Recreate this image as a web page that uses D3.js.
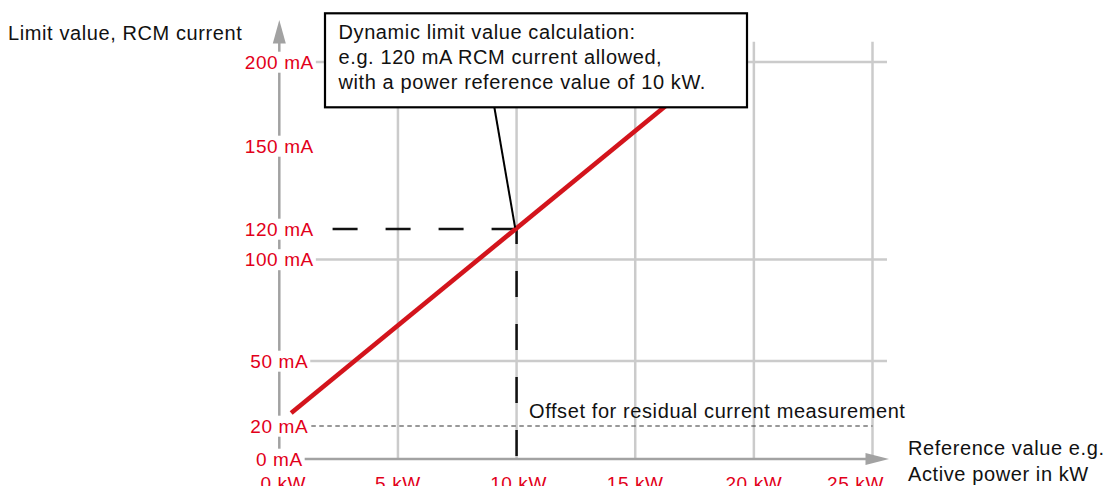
<!DOCTYPE html>
<html>
<head>
<meta charset="utf-8">
<script src="https://cdn.jsdelivr.net/npm/d3@7"></script>
<style>
  html, body { margin: 0; padding: 0; background: #fff; overflow: hidden; }
  svg { display: block; }
  text { font-family: "Liberation Sans", Arial, Helvetica, sans-serif; letter-spacing: 0.6px; }
</style>
</head>
<body>
<svg id="chart" width="1107" height="486"></svg>
<script>
// Reference value axis (kW)
const kwTicks = [0, 5, 10, 15, 20, 25];
const kwTickLabels = ["0 kW", "5 kW", "10 kW", "15 kW", "20 kW", "25 kW"];
const kwGrid = [5, 10, 15, 20, 25];

// Limit value axis (mA) – schematic, unevenly spaced ticks
const maTicks = [0, 20, 50, 100, 120, 150, 200];
const maTickLabels = ["0 mA", "20 mA", "50 mA", "100 mA", "120 mA", "150 mA", "200 mA"];
const maGrid = [50, 100, 200];

// Dynamic limit line: [kW, mA]
const limitKw = [0.5, 17.5];
const limitMa = [26, 188];

// Worked example point and fixed offset
const exampleKw = [10];
const exampleMa = [120];
const offsetMa = [20];

const yTitle = "Limit value, RCM current";
const xTitle = ["Reference value e.g.", "Active power in kW"];
const offsetText = "Offset for residual current measurement";
const noteLines = [
  "Dynamic limit value calculation:",
  "e.g. 120 mA RCM current allowed,",
  "with a power reference value of 10 kW."
];

const RED_TEXT = "#e2001a";
const RED_LINE = "#d3141c";
const AXIS = "#a2a2a2";
const GRID = "#cbcbcb";

const svg = d3.select("#chart");

const x = d3.scaleLinear().domain([0, 25]).range([279.3, 872.5]);
const y = d3.scaleLinear().domain(maTicks).range([459, 426, 361, 259.5, 229, 146, 62]);

const x0 = x(0), y0 = y(0);

// grid
svg.append("g").selectAll("line").data(kwGrid).join("line")
  .attr("x1", d => x(d)).attr("x2", d => x(d))
  .attr("y1", y0).attr("y2", 41.7)
  .attr("stroke", GRID).attr("stroke-width", 2.5);

svg.append("g").selectAll("line").data(maGrid).join("line")
  .attr("x1", x0).attr("x2", 887)
  .attr("y1", d => y(d)).attr("y2", d => y(d))
  .attr("stroke", GRID).attr("stroke-width", 2.5);

// offset line
svg.append("line")
  .attr("x1", x0).attr("x2", x(25))
  .attr("y1", y(offsetMa[0])).attr("y2", y(offsetMa[0]))
  .attr("stroke", "#333").attr("stroke-width", 1.2)
  .attr("stroke-dasharray", "4.5,3.5");

svg.append("text")
  .attr("x", 529).attr("y", 418)
  .attr("font-size", 20).attr("fill", "#111")
  .text(offsetText);

// axes with arrow heads
svg.append("line")
  .attr("x1", x0).attr("x2", x0).attr("y1", y0).attr("y2", 42)
  .attr("stroke", AXIS).attr("stroke-width", 2.5);
svg.append("path")
  .attr("d", `M${x0},20 L${x0 + 6.5},43.5 L${x0 - 6.5},43.5 Z`)
  .attr("fill", AXIS);

svg.append("line")
  .attr("x1", x0).attr("x2", 867).attr("y1", y0).attr("y2", y0)
  .attr("stroke", AXIS).attr("stroke-width", 2.5);
svg.append("path")
  .attr("d", `M889,${y0} L865.5,${y0 - 6} L865.5,${y0 + 6} Z`)
  .attr("fill", AXIS);

// example guide lines (dashed) from the example point outward
const ex = x(exampleKw[0]), ey = y(exampleMa[0]);
svg.append("line")
  .attr("x1", ex).attr("x2", 331).attr("y1", ey).attr("y2", ey)
  .attr("stroke", "#111").attr("stroke-width", 2.5)
  .attr("stroke-dasharray", "25,28");
svg.append("line")
  .attr("x1", ex).attr("x2", ex).attr("y1", y0 - 3).attr("y2", ey)
  .attr("stroke", "#111").attr("stroke-width", 2.5)
  .attr("stroke-dasharray", "26,27");

// dynamic limit line
const line = d3.line().x(d => x(d[0])).y(d => y(d[1]));
svg.append("path")
  .datum(d3.zip(limitKw, limitMa))
  .attr("d", line)
  .attr("fill", "none")
  .attr("stroke", RED_LINE).attr("stroke-width", 4.6);

// leader from note box to example point
svg.append("line")
  .attr("x1", 494.3).attr("y1", 107).attr("x2", ex - 1.5).attr("y2", ey - 1.5)
  .attr("stroke", "#000").attr("stroke-width", 2);

// note box
svg.append("rect")
  .attr("x", 325).attr("y", 13.3).attr("width", 422).attr("height", 94)
  .attr("fill", "#fff").attr("stroke", "#000").attr("stroke-width", 2.2);
svg.append("g").selectAll("text").data(noteLines).join("text")
  .attr("x", 338.5).attr("y", (d, i) => 39 + i * 25)
  .attr("font-size", 20).attr("fill", "#111")
  .text(d => d);

// y tick labels, centred on the axis with a white backing
const yl = svg.append("g").selectAll("g").data(maTicks).join("g");
yl.append("rect").attr("fill", "#fff");
yl.append("text")
  .attr("x", x0).attr("y", d => y(d) + 6.7)
  .attr("text-anchor", "middle")
  .attr("font-size", 19).attr("fill", RED_TEXT)
  .text((d, i) => maTickLabels[i]);
yl.each(function () {
  const g = d3.select(this);
  const b = g.select("text").node().getBBox();
  g.select("rect")
    .attr("x", b.x - 3).attr("y", b.y)
    .attr("width", b.width + 5).attr("height", b.height);
});

// x tick labels
const xShift = [4, 0, 2, 0, 0, -17];
svg.append("g").selectAll("text").data(kwTicks).join("text")
  .attr("x", (d, i) => x(d) + xShift[i]).attr("y", 489.5)
  .attr("text-anchor", "middle")
  .attr("font-size", 19).attr("fill", RED_TEXT)
  .text((d, i) => kwTickLabels[i]);

// axis titles
svg.append("text")
  .attr("x", 8).attr("y", 40)
  .attr("font-size", 20).attr("fill", "#111")
  .text(yTitle);
svg.append("g").selectAll("text").data(xTitle).join("text")
  .attr("x", 908).attr("y", (d, i) => 455 + i * 25.5)
  .attr("font-size", 20).attr("fill", "#111")
  .text(d => d);
</script>
</body>
</html>
